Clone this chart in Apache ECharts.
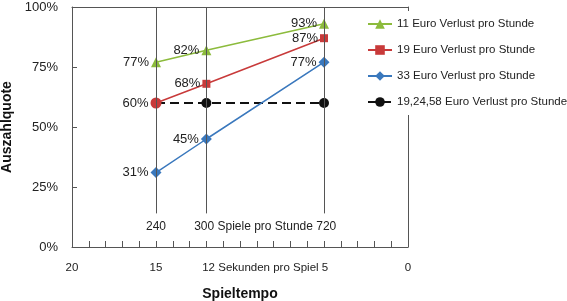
<!DOCTYPE html>
<html>
<head>
<meta charset="utf-8">
<script src="https://cdn.jsdelivr.net/npm/echarts@6/dist/echarts.min.js"></script>
<style>
  html, body { margin: 0; padding: 0; background: #fff; }
  #chart { width: 567px; height: 301px; }
</style>
</head>
<body>
<div id="chart"></div>
<script>
// Sekunden pro Spiel (x), Auszahlquote in % (y)
const tempoSec = [15, 12, 5]
const loss11 = [77, 82, 93]
const loss19 = [60, 68, 87]
const loss33 = [31, 45, 77]
const lossConst = [60, 60, 60]

const seriesNames = [
  '11 Euro Verlust pro Stunde',
  '19 Euro Verlust pro Stunde',
  '33 Euro Verlust pro Stunde',
  '19,24,58 Euro Verlust pro Stunde',
]
const colors = ['#8cbb3c', '#c83a3a', '#3a78bd', '#111111']

const secTicks = [0, 1, 2, 3, 4, 5, 6, 7, 8, 9, 10, 11, 12, 13, 14, 15, 16, 17, 18, 19, 20]
const bottomLabels = { 20: '20', 15: '15', 8.5: '12 Sekunden pro Spiel 5', 0: '0' }
const innerLabels = { 15: '240', 8.5: '300 Spiele pro Stunde 720' }
const yTicks = ['0%', '25%', '50%', '75%', '100%']

const font = '"Liberation Sans", Arial, Helvetica, sans-serif'
const axisColor = '#555'
const textColor = '#222'

const chart = echarts.init(document.getElementById('chart'))

const pts = (vals) => tempoSec.map((x, i) => [x, vals[i]])

const pctLabel = {
  show: true,
  position: 'left',
  distance: 2,
  fontSize: 13,
  fontFamily: font,
  color: textColor,
  formatter: (p) => p.value[1] + '%',
}

// nur Rahmenlinie (oben / rechts)
const frameAxis = {
  min: 0,
  axisLine: { show: true, onZero: false, lineStyle: { color: axisColor } },
  axisTick: { show: false },
  axisLabel: { show: false },
  splitLine: { show: false },
}

const option = {
  animation: false,
  textStyle: { fontFamily: font },
  grid: {
    left: 72,
    right: 159,
    top: 7,
    bottom: 54,
    containLabel: false,
    outerBoundsMode: 'none',
  },
  legend: {
    orient: 'vertical',
    left: 362,
    top: 11,
    padding: [7, 8, 7, 5],
    backgroundColor: '#fff',
    itemWidth: 24,
    itemHeight: 12,
    itemGap: 14,
    data: seriesNames,
    textStyle: { fontSize: 11.5, color: textColor, fontFamily: font },
  },
  xAxis: [
    {
      type: 'value',
      position: 'bottom',
      min: 0,
      max: 20,
      interval: 1,
      inverse: true,
      name: 'Spieltempo',
      nameLocation: 'middle',
      nameGap: 40,
      nameTextStyle: { fontSize: 14, fontWeight: 'bold', color: '#111' },
      axisLine: { onZero: false, lineStyle: { color: axisColor } },
      axisTick: {
        inside: true,
        length: 6,
        customValues: secTicks,
        lineStyle: { color: axisColor },
      },
      axisLabel: {
        customValues: [20, 15, 8.5, 0],
        formatter: (v) => bottomLabels[v] || '',
        margin: 15,
        fontSize: 11.5,
        color: textColor,
      },
      splitLine: { show: false },
    },
    {
      type: 'value',
      position: 'bottom',
      min: 0,
      max: 20,
      inverse: true,
      axisLine: { show: false, onZero: false },
      axisTick: { show: false },
      axisLabel: {
        inside: true,
        customValues: [15, 8.5],
        formatter: (v) => innerLabels[v] || '',
        margin: 14,
        fontSize: 12,
        color: textColor,
      },
      splitLine: { show: false },
    },
    Object.assign({ type: 'value', position: 'top', max: 20 }, frameAxis),
  ],
  yAxis: [
    {
      type: 'value',
      position: 'left',
      min: 0,
      max: 100,
      interval: 25,
      name: 'Auszahlquote',
      nameLocation: 'middle',
      nameGap: 57,
      nameTextStyle: { fontSize: 14, fontWeight: 'bold', color: '#111' },
      axisLine: { show: true, onZero: false, lineStyle: { color: axisColor } },
      axisTick: { show: true, inside: true, length: 5, lineStyle: { color: axisColor } },
      axisLabel: {
        margin: 14,
        fontSize: 13,
        color: textColor,
        formatter: (v) => yTicks[v / 25],
      },
      splitLine: { show: false },
    },
    Object.assign({ type: 'value', position: 'right', max: 100 }, frameAxis),
  ],
  series: [
    {
      name: seriesNames[3],
      type: 'line',
      z: 2,
      data: pts(lossConst).map((d, i) => (i === 0 ? { value: d, symbol: 'none' } : d)),
      symbol: 'circle',
      symbolSize: 10,
      itemStyle: { color: colors[3] },
      lineStyle: { color: colors[3], width: 2, type: [9, 5] },
      markLine: {
        silent: true,
        symbol: 'none',
        label: { show: false },
        lineStyle: { color: axisColor, width: 1, type: 'solid' },
        data: tempoSec.map((x) => [{ coord: [x, 100] }, { coord: [x, 14] }]),
      },
    },
    {
      name: seriesNames[0],
      type: 'line',
      z: 3,
      data: pts(loss11),
      symbol: 'triangle',
      symbolSize: 10,
      itemStyle: { color: colors[0] },
      lineStyle: { color: colors[0], width: 1.5 },
      label: pctLabel,
    },
    {
      name: seriesNames[1],
      type: 'line',
      z: 3,
      data: pts(loss19).map((d, i) => (i === 0 ? { value: d, symbol: 'circle', symbolSize: 11 } : d)),
      symbol: 'rect',
      symbolSize: 8,
      itemStyle: { color: colors[1] },
      lineStyle: { color: colors[1], width: 1.5 },
      label: pctLabel,
    },
    {
      name: seriesNames[2],
      type: 'line',
      z: 3,
      data: pts(loss33),
      symbol: 'diamond',
      symbolSize: 11,
      itemStyle: { color: colors[2] },
      lineStyle: { color: colors[2], width: 1.5 },
      label: pctLabel,
    },
  ],
}

chart.setOption(option)
</script>
</body>
</html>
